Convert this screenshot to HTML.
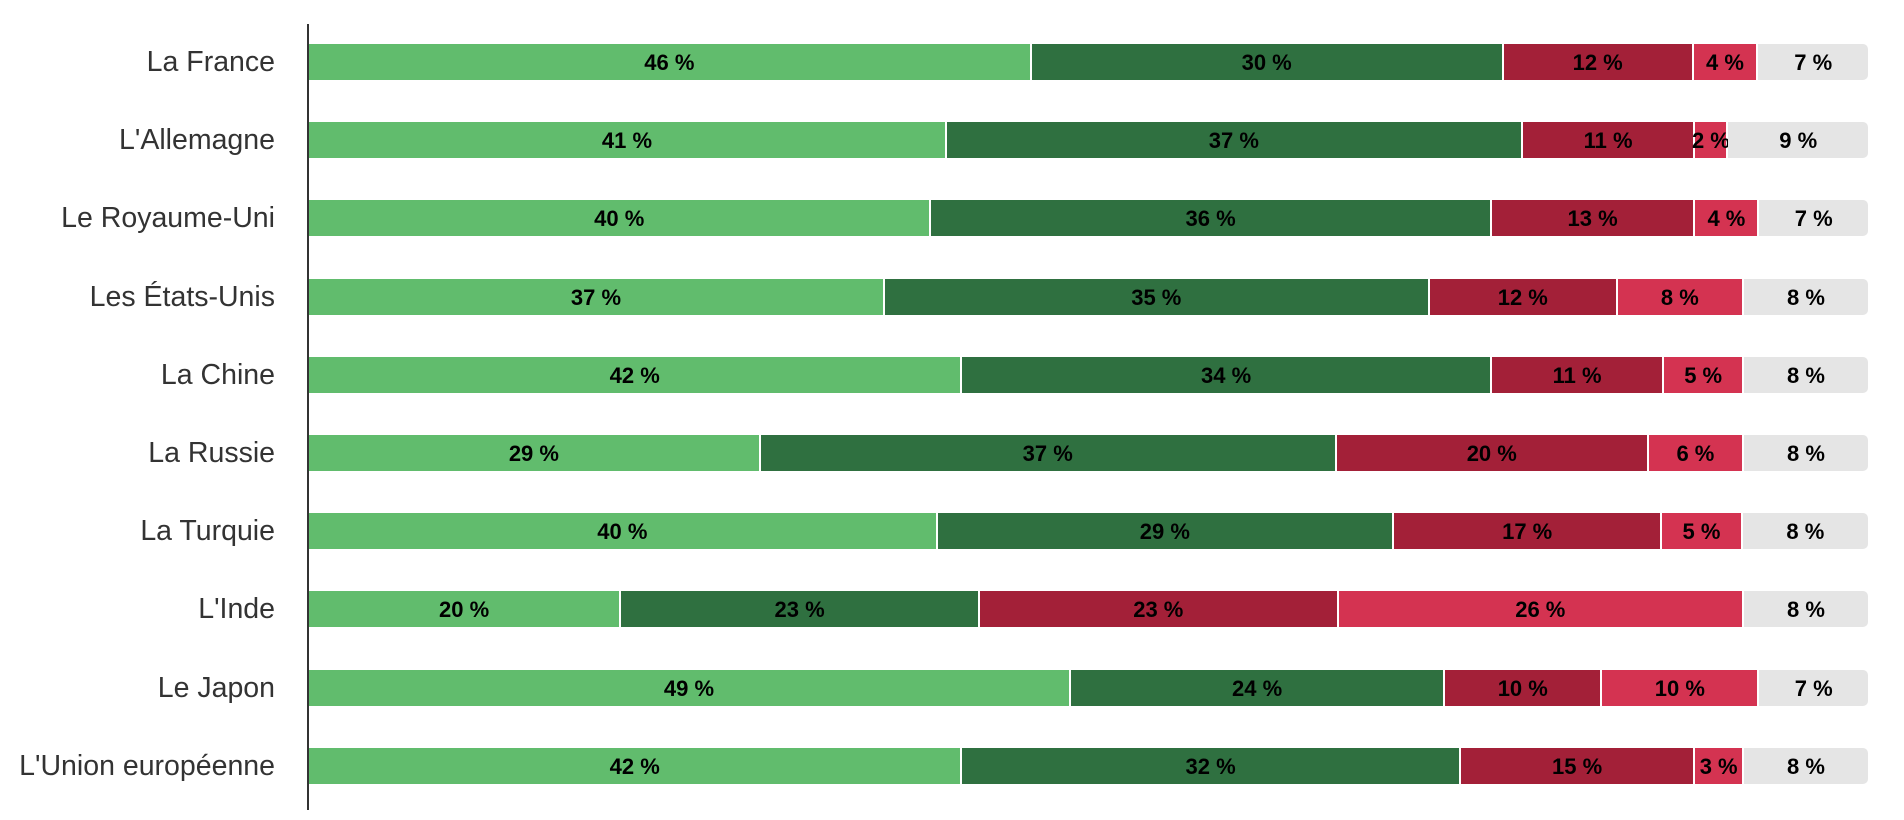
<!DOCTYPE html>
<html><head><meta charset="utf-8"><style>
body{margin:0;width:1904px;height:820px;background:#fff;position:relative;overflow:hidden;font-family:"Liberation Sans",sans-serif}
.axis{position:absolute;left:307px;top:24px;width:2px;height:786px;background:#333}
.row{position:absolute;left:309px;width:1559px;height:36px;display:flex;gap:2px}
.row div{height:36px;display:flex;align-items:center;justify-content:center;font-weight:bold;font-size:22px;color:#000;white-space:nowrap;overflow:visible;min-width:0;padding-top:2px;box-sizing:border-box}
.a{background:#61bc6d}.b{background:#2f7040}.c{background:#a32038}.d{background:#d43351}.e{background:#e5e5e5;border-radius:0 5px 5px 0}
.lab{position:absolute;right:1629px;height:36px;line-height:36px;font-size:28.5px;color:#333;white-space:nowrap}
</style></head><body>
<div class="axis"></div>
<script>
const data=[["La France",46,30,12,4,7],["L'Allemagne",41,37,11,2,9],["Le Royaume-Uni",40,36,13,4,7],["Les États-Unis",37,35,12,8,8],["La Chine",42,34,11,5,8],["La Russie",29,37,20,6,8],["La Turquie",40,29,17,5,8],["L'Inde",20,23,23,26,8],["Le Japon",49,24,10,10,7],["L'Union européenne",42,32,15,3,8]];
let h="";const cls=["a","b","c","d","e"];
data.forEach((r,i)=>{const t=44+i*78.2;
h+=`<div class="lab" style="top:${t}px">${r[0]}</div><div class="row" style="top:${t}px">`;
for(let k=0;k<5;k++)h+=`<div class="${cls[k]}" style="flex:${r[k+1]} 1 0">${r[k+1]} %</div>`;
h+="</div>";});
document.write(h);
</script>
</body></html>
